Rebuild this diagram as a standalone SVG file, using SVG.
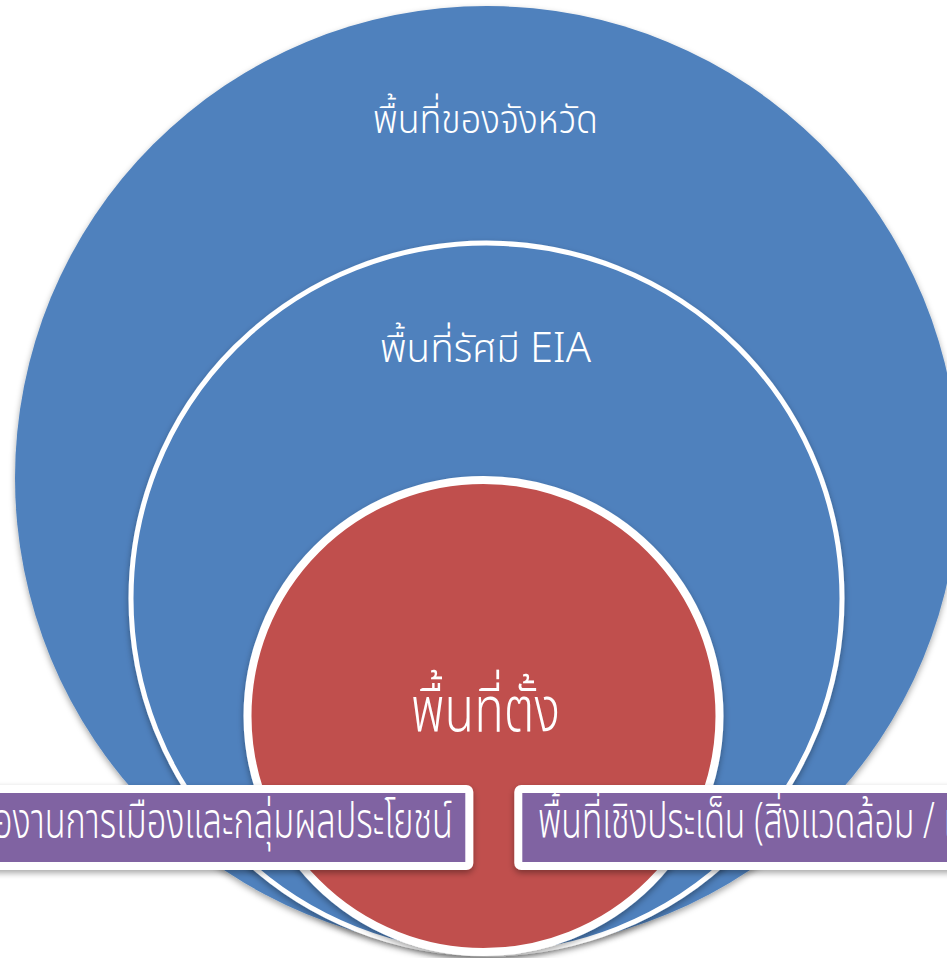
<svg xmlns="http://www.w3.org/2000/svg" width="947" height="958" viewBox="0 0 947 958">
<defs>
<filter id="sh" x="-20%" y="-20%" width="140%" height="140%">
<feDropShadow dx="0" dy="3" stdDeviation="3" flood-color="#000" flood-opacity="0.35"/>
</filter>
<style>
.blue{fill:#4F81BD;}
.ring{fill:#4F81BD;stroke:#fff;stroke-width:5;}
.red{fill:#C0504D;stroke:#fff;stroke-width:8;}
.box{fill:#8064A2;stroke:#fff;stroke-width:8;}
.t{font-family:"Noto Sans Thai","Noto Sans","DejaVu Sans",sans-serif;fill:#fff;font-weight:350;}
</style>
</defs>
<rect width="947" height="958" fill="#fff"/>
<g id="province">
<circle class="blue" cx="487" cy="478" r="472" filter="url(#sh)"/>
<text class="t" x="373" y="133" font-size="40" textLength="225" lengthAdjust="spacingAndGlyphs">พื้นที่ของจังหวัด</text>
</g>
<g id="eia">
<circle class="ring" cx="486.5" cy="598.5" r="355.5" filter="url(#sh)"/>
<text class="t" x="380" y="362" font-size="40" textLength="211" lengthAdjust="spacingAndGlyphs">พื้นที่รัศมี <tspan font-size="43">EIA</tspan></text>
</g>
<g id="site">
<circle class="red" cx="483.5" cy="716" r="236" filter="url(#sh)"/>
<text class="t" x="411" y="731" font-size="62" textLength="149" lengthAdjust="spacingAndGlyphs">พื้นที่ตั้ง</text>
</g>
<g id="politics">
<rect class="box" x="-20" y="789" width="489.3" height="77" rx="3" filter="url(#sh)"/>
<text class="t" transform="translate(-7,838) scale(0.69,1)" x="0" y="0" font-size="50" textLength="666.7" lengthAdjust="spacingAndGlyphs">องานการเมืองและกลุ่มผลประโยชน์</text>
</g>
<g id="issues">
<rect class="box" x="518.3" y="789" width="460" height="77" rx="3" filter="url(#sh)"/>
<text class="t" transform="translate(538,838) scale(0.69,1)" x="0" y="0" font-size="50" textLength="601.4" lengthAdjust="spacingAndGlyphs">พื้นที่เชิงประเด็น (สิ่งแวดล้อม / เ</text>
</g>
<g id="connectors"/>
</svg>
